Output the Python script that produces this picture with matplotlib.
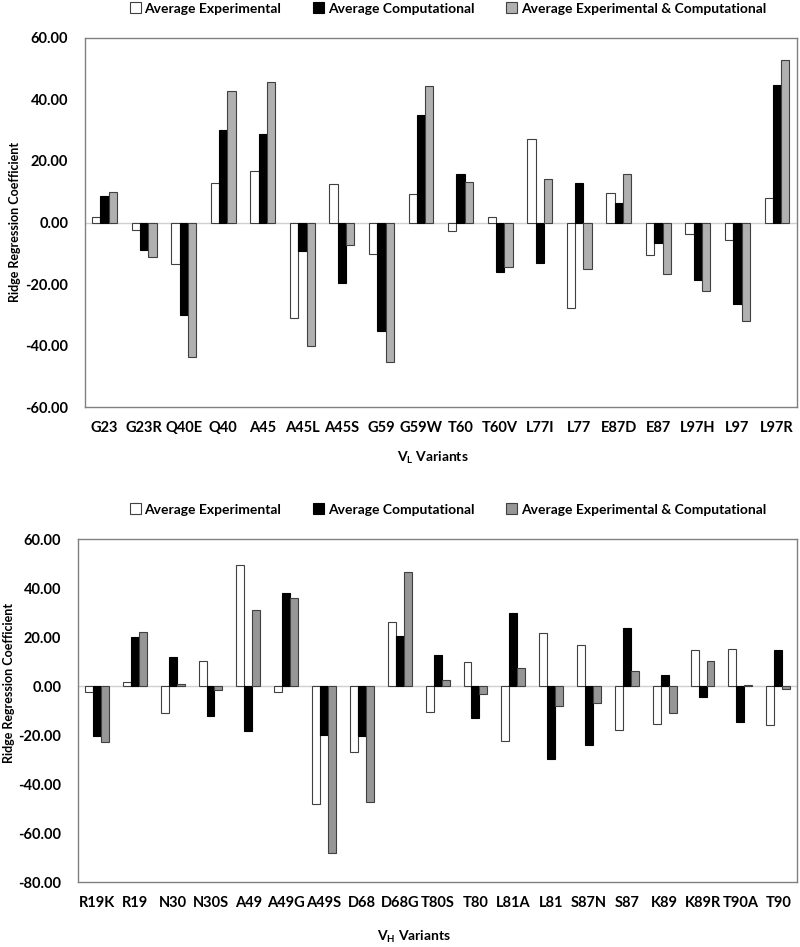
import numpy as np
import matplotlib
matplotlib.use("Agg")
import matplotlib.pyplot as plt

plt.rcParams['font.family'] = ['Lato', 'DejaVu Sans']
plt.rcParams['font.weight'] = 'bold'
plt.rcParams['mathtext.fontset'] = 'custom'
plt.rcParams['mathtext.rm'] = 'Lato:bold'
plt.rcParams['mathtext.bf'] = 'Lato:bold'

series_names = ['Average Experimental', 'Average Computational',
                'Average Experimental & Computational']

# V_L variants
vl_labels = ['G23', 'G23R', 'Q40E', 'Q40', 'A45', 'A45L', 'A45S', 'G59', 'G59W',
             'T60', 'T60V', 'L77I', 'L77', 'E87D', 'E87', 'L97H', 'L97', 'L97R']
vl_exp = [1.7, -2.5, -13.4, 12.8, 16.9, -30.9, 12.5, -10.3, 9.3,
          -2.8, 1.7, 27.0, -27.9, 9.5, -10.4, -3.8, -5.6, 7.9]
vl_comp = [8.6, -8.8, -30.2, 30.1, 28.8, -9.3, -19.6, -35.1, 35.0,
           15.8, -16.1, -13.2, 12.8, 6.3, -6.7, -18.6, -26.6, 44.6]
vl_both = [10.0, -11.2, -43.6, 42.9, 45.8, -40.0, -7.2, -45.2, 44.3,
           13.2, -14.5, 14.0, -15.2, 15.8, -16.7, -22.3, -32.0, 52.7]

# V_H variants
vh_labels = ['R19K', 'R19', 'N30', 'N30S', 'A49', 'A49G', 'A49S', 'D68', 'D68G',
             'T80S', 'T80', 'L81A', 'L81', 'S87N', 'S87', 'K89', 'K89R', 'T90A', 'T90']
vh_exp = [-2.6, 1.8, -11.0, 10.2, 49.3, -2.4, -48.2, -26.9, 26.1,
          -10.6, 9.8, -22.6, 21.6, 16.9, -17.8, -15.6, 14.6, 15.1, -15.8]
vh_comp = [-20.3, 20.1, 11.7, -12.1, -18.2, 38.0, -20.0, -20.5, 20.5,
           12.8, -12.9, 29.8, -29.9, -23.9, 23.8, 4.4, -4.5, -14.7, 14.6]
vh_both = [-22.7, 21.9, 0.8, -1.6, 31.2, 35.8, -68.2, -47.5, 46.4,
           2.3, -3.1, 7.3, -8.3, -7.1, 6.1, -11.2, 10.2, 0.4, -1.4]

W, H = 800, 947


def draw(ax, labels, exp, comp, both, gray, ylim):
    x = np.arange(len(labels))
    w = 0.21
    b1 = ax.bar(x - w, exp, w, color='white', edgecolor='#404040', lw=0.8,
                label=series_names[0], zorder=3)
    b2 = ax.bar(x, comp, w, color='black', edgecolor='black', lw=0.8,
                label=series_names[1], zorder=3)
    b3 = ax.bar(x + w, both, w, color=gray, edgecolor='#404040', lw=0.8,
                label=series_names[2], zorder=3)
    ax.axhline(0, color='#d0d0d0', lw=1, zorder=2)
    ax.set_xlim(-0.5, len(labels) - 0.5)
    ax.set_ylim(*ylim)
    ax.set_yticks(np.arange(ylim[0], ylim[1] + 1, 20))
    ax.yaxis.set_major_formatter(matplotlib.ticker.FormatStrFormatter('%.2f'))
    ax.set_xticks(x)
    ax.set_xticklabels(labels)
    ax.tick_params(length=0, labelsize=10.5, pad=10)
    ax.tick_params(axis='y', pad=12)
    for s in ax.spines.values():
        s.set_color('#808080')
        s.set_linewidth(1)
    return [b1, b2, b3]


def legend(h, y):
    fig.legend(h, series_names, loc='center', bbox_to_anchor=(0.56, y),
               ncol=3, frameon=False, fontsize=10, handlelength=0.8,
               handleheight=0.8, handletextpad=0.25, columnspacing=2.3)


fig = plt.figure(figsize=(8, 9.47), dpi=100)

ax1 = fig.add_axes([0.106, 0.570, 0.890, 0.390])
h = draw(ax1, vl_labels, vl_exp, vl_comp, vl_both, '#b0b0b0', (-60, 60))
legend(h, 0.991)
fig.text(15 / W, 1 - 222 / H, 'Ridge Regression Coefficient', rotation=90,
         ha='center', va='center', fontsize=9, fontweight='bold')
fig.text(433 / W, 1 - 458 / H, r'V$_{\mathrm{L}}$ Variants', ha='center',
         va='center', fontsize=10, fontweight='bold')

ax2 = fig.add_axes([0.0975, 0.0686, 0.899, 0.3622])
h = draw(ax2, vh_labels, vh_exp, vh_comp, vh_both, '#969696', (-80, 60))
legend(h, 0.462)
fig.text(9 / W, 1 - 683 / H, 'Ridge Regression Coefficient', rotation=90,
         ha='center', va='center', fontsize=9, fontweight='bold')
fig.text(414 / W, 1 - 937 / H, r'V$_{\mathrm{H}}$ Variants', ha='center',
         va='center', fontsize=10, fontweight='bold')

fig.savefig('out.png', dpi=100)
